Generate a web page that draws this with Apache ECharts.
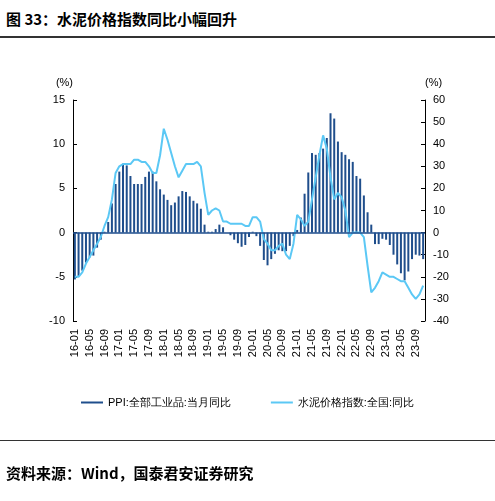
<!DOCTYPE html><html><head><meta charset="utf-8"><script src="https://cdn.jsdelivr.net/npm/echarts@6/dist/echarts.min.js"></script>
<style>body{margin:0;background:#fff}#t{position:absolute;left:6px;top:8px;font:bold 15px "Noto Sans CJK SC";color:#000}#l1{position:absolute;left:0;top:36px;width:495px;border-top:2px solid #333}#l2{position:absolute;left:0;top:440px;width:495px;border-top:1px solid #333}#s{position:absolute;left:6px;top:462px;font:bold 15px "Noto Sans CJK SC";color:#000}</style></head><body>
<div id="t">图 33：水泥价格指数同比小幅回升</div><div id="l1"></div>
<div id="c" style="position:absolute;left:0;top:0;width:495px;height:501px"></div>
<div id="l2"></div><div id="s">资料来源：Wind，国泰君安证券研究</div>
<script>
const months=[];for(let y=16;y<=23;y++)for(let m=1;m<=12;m++){if(y==23&&m>11)break;months.push(y+'-'+String(m).padStart(2,'0'));}
const ppi=[-5.3,-4.9,-4.3,-3.4,-2.8,-2.6,-1.7,-0.8,0.1,1.2,3.3,5.5,
6.9,7.8,7.6,6.4,5.5,5.5,5.5,6.3,6.9,6.9,5.8,4.9,
4.3,3.7,3.1,3.4,4.1,4.7,4.6,4.1,3.6,3.3,2.7,0.9,
0.1,0.1,0.4,0.9,0.6,0,-0.3,-0.8,-1.2,-1.6,-1.4,-0.5,
0.1,-0.4,-1.5,-3.1,-3.7,-3.0,-2.4,-2.0,-2.1,-2.1,-1.5,-0.4,
0.3,1.7,4.4,6.8,9.0,8.8,9.0,9.5,10.7,13.5,12.9,10.3,
9.1,8.8,8.3,8.0,6.4,6.1,4.2,2.3,0.9,-1.3,-1.3,-0.7,
-0.8,-1.4,-2.5,-3.6,-4.6,-5.4,-4.4,-3.0,-2.5,-2.6,-3.0];
const cement=[-20,-20,-18,-14,-11,-8,-5,-2,3,7,15,27,
30,31,31,31,33,33,32,32,30,27,27,35,
47,42,36,30,25,28,31,31,31,32,30,18,
8,10,11,10,5,5,4,4,4,4,3,3,
7,7,5,-3,-5,-8,-8,-6,-5,-10,-12,-5,
8,6,3,5,15,25,35,44,38,25,15,18,
16,10,-2,0,0,0,-2,-15,-27,-25,-22,-18,
-19,-20,-20,-21,-22,-22,-25,-28,-30,-28,-24];
const ch=echarts.init(document.getElementById('c'));
const ax={axisLine:{show:true,lineStyle:{color:'#000'}},axisTick:{show:true,length:4,inside:true},splitLine:{show:false},axisLabel:{color:'#000',fontSize:11}};
ch.setOption({animation:false,
grid:{left:73,right:70,top:100,bottom:180},
legend:{bottom:88,itemGap:40,textStyle:{fontSize:11,color:'#000'},data:[{name:'PPI:全部工业品:当月同比',icon:'rect'},{name:'水泥价格指数:全国:同比',icon:'rect'}],itemWidth:22,itemHeight:2},
xAxis:{type:'category',data:months,boundaryGap:true,axisLine:{show:false},axisTick:{show:false},axisLabel:{interval:3,rotate:90,color:'#000',fontSize:11}},
yAxis:[Object.assign({type:'value',min:-10,max:15,interval:5,name:'(%)',nameGap:12,nameTextStyle:{color:'#000',fontSize:11,align:'right'}},ax),
Object.assign({type:'value',min:-40,max:60,interval:10,name:'(%)',nameGap:12,nameTextStyle:{color:'#000',fontSize:11,align:'left'}},ax)],
series:[{name:'PPI:全部工业品:当月同比',type:'bar',data:ppi,barWidth:2,itemStyle:{color:'#1F4E8C'},
markLine:{silent:true,symbol:'none',label:{show:false},lineStyle:{color:'#1F4E8C',type:'solid',width:1.5},data:[{yAxis:0}]}},
{name:'水泥价格指数:全国:同比',type:'line',yAxisIndex:1,data:cement,symbol:'none',lineStyle:{color:'#5BC8F5',width:2},itemStyle:{color:'#5BC8F5'}}]});
</script></body></html>
